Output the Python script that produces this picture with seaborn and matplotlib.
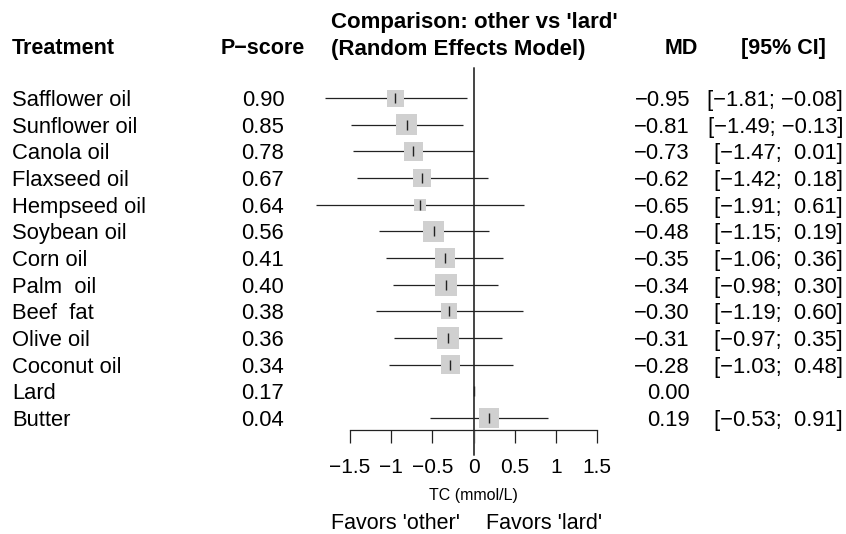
import matplotlib
matplotlib.use("Agg")
import matplotlib.pyplot as plt
import seaborn as sns
import pandas as pd
import numpy as np

# ---- data ----
treatments = ["Safflower oil", "Sunflower oil", "Canola oil", "Flaxseed oil", "Hempseed oil",
              "Soybean oil", "Corn oil", "Palm  oil", "Beef  fat", "Olive oil",
              "Coconut oil", "Lard", "Butter"]
pscore = [0.90, 0.85, 0.78, 0.67, 0.64, 0.56, 0.41, 0.40, 0.38, 0.36, 0.34, 0.17, 0.04]
md = [-0.95, -0.81, -0.73, -0.62, -0.65, -0.48, -0.35, -0.34, -0.30, -0.31, -0.28, 0.00, 0.19]
lower = [-1.81, -1.49, -1.47, -1.42, -1.91, -1.15, -1.06, -0.98, -1.19, -0.97, -1.03, np.nan, -0.53]
upper = [-0.08, -0.13, 0.01, 0.18, 0.61, 0.19, 0.36, 0.30, 0.60, 0.35, 0.48, np.nan, 0.91]
# relative box size (study weight), square side in pixels
box_px = [17, 21, 19, 18, 12, 21, 20, 22, 16, 22, 19, 0, 20]
axis_ticks = [-1.5, -1, -0.5, 0, 0.5, 1, 1.5]

df = pd.DataFrame({"trt": treatments, "pscore": pscore, "md": md,
                   "lo": lower, "hi": upper, "box": box_px})
df["row"] = np.arange(len(df))

sns.set_theme(style="white")
plt.rcParams["font.family"] = ["Liberation Sans", "DejaVu Sans"]
plt.rcParams["text.color"] = "black"
plt.rcParams["xtick.color"] = "black"

W, H = 846, 534
fig = plt.figure(figsize=(W / 100, H / 100), dpi=100)
ax = fig.add_axes([0, 0, 1, 1])

# pixel layout: x = 473.5 + 82.3*value ; y = 98 + 26.67*row
x0, xs = 473.5, 82.3
y0, ys = 98, 26.67
ax.set_xlim(-x0 / xs, (W - x0) / xs)
ax.set_ylim((H - y0) / ys, -y0 / ys)

def px(x):
    return (x - x0) / xs

def py(y):
    return (y - y0) / ys

# reference line at zero
ax.plot([0, 0], [py(68), py(455)], color="#444444", lw=1.4, zorder=1)

# confidence intervals
ci = df.dropna(subset=["lo"])
ax.hlines(ci["row"], ci["lo"], ci["hi"], color="#222222", lw=0.9, zorder=2)

# weighted squares
sq = df[df["box"] > 0]
sns.scatterplot(data=sq, x="md", y="row", marker="s", s=(sq["box"] * 0.72) ** 2,
                color="#D0D0D0", linewidth=0, legend=False, ax=ax, zorder=3)
# point estimates
sns.scatterplot(data=df, x="md", y="row", marker="|", s=55, color="#222222",
                linewidth=1.0, legend=False, ax=ax, zorder=4)

# bottom axis
ax.spines[["top", "right", "left"]].set_visible(False)
ax.spines["bottom"].set_position(("data", py(430)))
ax.spines["bottom"].set_bounds(-1.5, 1.5)
ax.spines["bottom"].set_color("#222222")
ax.spines["bottom"].set_linewidth(0.9)
ax.set_xticks(axis_ticks)
ax.set_xticklabels([f"{t:g}".replace("-", "\u2212") for t in axis_ticks], fontsize=15)
ax.tick_params(axis="x", direction="out", length=9.5, width=0.9, color="#222222",
               pad=10.5, bottom=True)
ax.set_yticks([])
ax.set_xlabel("")
ax.set_ylabel("")

# column texts
fs = 15.8
tk = dict(va="center_baseline", fontsize=fs)
for r in df.itertuples():
    ax.text(px(12), r.row, r.trt, ha="left", **tk)
    ax.text(px(263), r.row, f"{r.pscore:.2f}", ha="center", **tk)
    ax.text(px(690), r.row, f"{r.md:.2f}".replace("-", "\u2212"), ha="right", **tk)
    if not np.isnan(r.lo):
        lo = f"{r.lo:5.2f}".replace("-", "\u2212")
        hi = f"{r.hi:5.2f}".replace("-", "\u2212")
        ax.text(px(843), r.row, f"[{lo}; {hi}]", ha="right", **tk)

# headers
hk = dict(fontsize=15.5, fontweight="bold", va="center_baseline")
ax.text(px(12), py(46), "Treatment", ha="left", **hk)
ax.text(px(263), py(46), "P\u2212score", ha="center", **hk)
ax.text(px(698), py(46), "MD", ha="right", **hk)
ax.text(px(826), py(46), "[95% CI]", ha="right", **hk)
tkh = dict(hk, fontsize=16)
ax.text(px(331), py(20), "Comparison: other vs 'lard'", ha="left", **tkh)
ax.text(px(331), py(47), "(Random Effects Model)", ha="left", **tkh)

# axis label and direction labels
ax.text(0, py(494), "TC (mmol/L)", ha="center", va="center_baseline", fontsize=11.5)
ax.text(px(395.5), py(521), "Favors 'other'", ha="center", va="center_baseline", fontsize=15.5)
ax.text(px(544.5), py(521), "Favors 'lard'", ha="center", va="center_baseline", fontsize=15.5)

fig.savefig("out.png", dpi=100)
